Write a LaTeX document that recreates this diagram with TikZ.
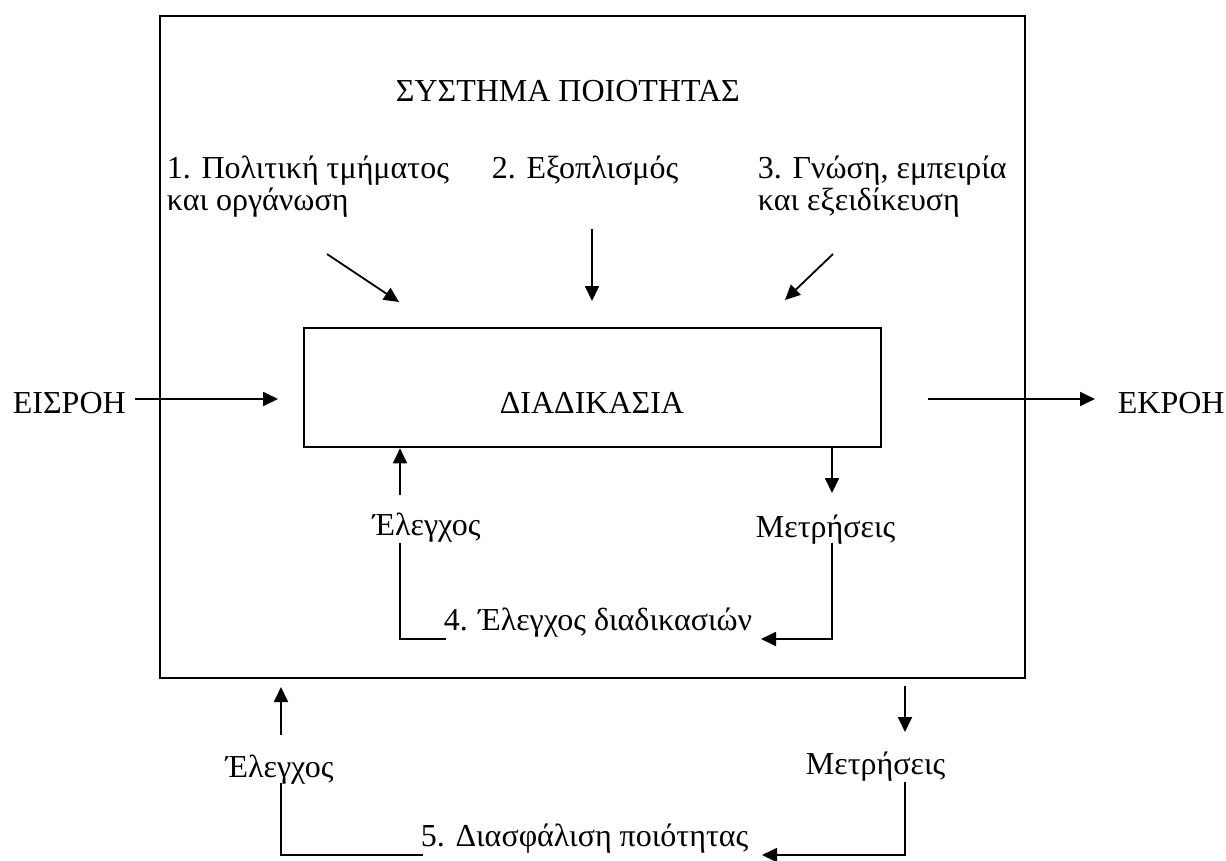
\documentclass[tikz,border=0pt]{standalone}
\usepackage{fontspec}
\setmainfont{Liberation Serif}
\usetikzlibrary{arrows.meta}
\begin{document}
\begin{tikzpicture}[x=1pt,y=-1pt,
  line width=1.8pt,
  arr/.style={-{Triangle[length=15pt,width=14pt]}},
  lbl/.style={inner sep=0pt, anchor=base west, font=\fontsize{32}{32}\selectfont},
  frame/.style={draw, line width=2pt, inner sep=0pt, anchor=north west}]
\useasboundingbox (0,0) rectangle (1226,860);

% quality system frame and the process box
\node[frame, minimum width=865pt, minimum height=662pt] (sys) at (159,15) {};
\node[frame, line width=2.3pt, minimum width=577pt, minimum height=119pt] (proc) at (303,327) {};
\node[lbl, anchor=base] (proctext) at (592,413) {ΔΙΑΔΙΚΑΣΙΑ};

% headings inside the frame
\node[lbl] (title) at (395,101) {ΣΥΣΤΗΜΑ ΠΟΙΟΤΗΤΑΣ};
\node[lbl] (pol) at (166,178) {\begin{tabular}[t]{@{}l@{}}1. Πολιτική τμήματος\\και οργάνωση\end{tabular}};
\node[lbl] (equip) at (491,178) {2. Εξοπλισμός};
\node[lbl] (know) at (757,178) {\begin{tabular}[t]{@{}l@{}}3. Γνώση, εμπειρία\\και εξειδίκευση\end{tabular}};

% the three resources acting on the process
\coordinate (polA) at (327,254);  \coordinate (polB) at (399,302);
\coordinate (eqA)  at (592,229);  \coordinate (eqB)  at (592,301);
\coordinate (knA)  at (833,254);  \coordinate (knB)  at (785,300);
\draw[arr] (polA) -- (polB);
\draw[arr] (eqA) -- (eqB);
\draw[arr] (knA) -- (knB);

% input and output
\node[lbl] (in) at (12,413) {ΕΙΣΡΟΗ};
\node[lbl] (out) at (1117,413) {ΕΚΡΟΗ};
\coordinate (inA) at (135,399);  \coordinate (inB) at (278,399);
\coordinate (outA) at (928,399); \coordinate (outB) at (1095,399);
\draw[arr] (inA) -- (inB);
\draw[arr] (outA) -- (outB);

% process control loop
\node[lbl] (ctlA) at (372,535) {Έλεγχος};
\node[lbl] (measA) at (755,537) {Μετρήσεις};
\node[lbl] (pc) at (443,630) {4. Έλεγχος διαδικασιών};
\coordinate (ctlAup) at (400,495);
\coordinate (ctlAdn) at (400,543);
\coordinate (pcL) at (446,639);
\coordinate (msAtip) at (832,493);
\coordinate (msAdn) at (832,543);
\coordinate (pcR) at (761,639);
\draw[arr] (ctlAup) -- (ctlAup |- proc.south);
\draw (ctlAdn) |- (pcL);
\draw[arr] (msAtip |- proc.south) -- (msAtip);
\draw[arr] (msAdn) |- (pcR);

% quality assurance loop
\node[lbl] (ctlB) at (225,777) {Έλεγχος};
\node[lbl] (measB) at (805,774) {Μετρήσεις};
\node[lbl] (qa) at (420,846) {5. Διασφάλιση ποιότητας};
\coordinate (ctlBup) at (281,735);
\coordinate (ctlBtip) at (281,687);
\coordinate (ctlBdn) at (281,783);
\coordinate (qaL) at (423,855);
\coordinate (msBtop) at (905,686);
\coordinate (msBtip) at (905,732);
\coordinate (msBdn) at (905,782);
\coordinate (qaR) at (762,855);
\draw[arr] (ctlBup) -- (ctlBtip);
\draw (ctlBdn) |- (qaL);
\draw[arr] (msBtop) -- (msBtip);
\draw[arr] (msBdn) |- (qaR);
\end{tikzpicture}
\end{document}
